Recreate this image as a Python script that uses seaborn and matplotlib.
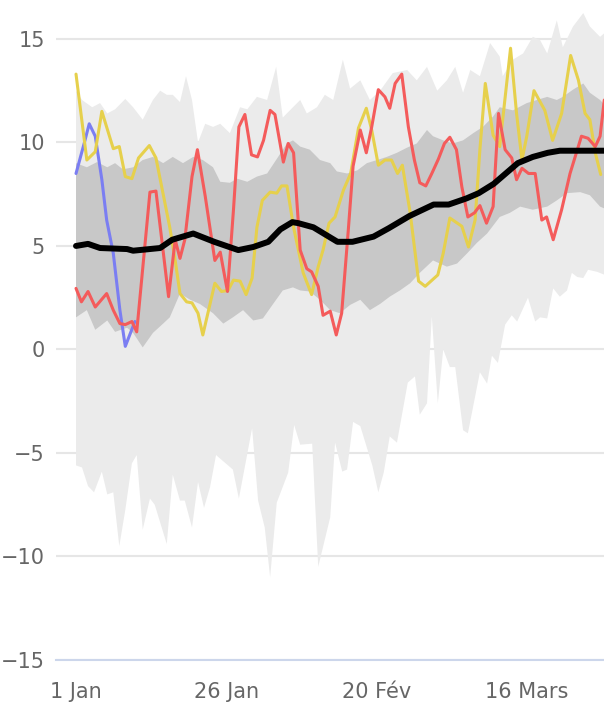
import matplotlib
matplotlib.use("Agg")
import matplotlib.pyplot as plt
import seaborn as sns

# days counted from 1 Jan
tick_days = [0, 25, 50, 75]
tick_labels = ["1 Jan", "26 Jan", "20 Fév", "16 Mars"]

# min / max envelope (light band)
max_days = [0, 1, 2.7, 4, 5.2, 6.5, 8.2, 9.5, 11.1, 12.8, 14, 15.1, 16.1, 17.3, 18.3, 19.3, 20.3, 21.5,
            22.8, 24, 25.6, 27.3, 28.5, 30.1, 31.8, 33.3, 34.4, 36.1, 37.3, 38.4, 40.1, 41.4, 42.8, 44.4,
            45.6, 47.3, 48.9, 50.6, 52.7, 55.1, 56.7, 58.4, 60.1, 61.7, 63.1, 64.4, 65.6, 67.2, 68.9,
            70.5, 71, 72.7, 74.4, 76, 77.2, 78.4, 80, 81, 82.7, 84.4, 85.5, 87.2, 88]
max_vals = [12.5, 12.05, 11.7, 11.9, 11.4, 11.6, 12.1, 11.7, 11.1, 12.05, 12.5, 12.3, 12.3, 11.95, 13.2,
            12.05, 10.0, 10.9, 10.75, 10.9, 10.45, 11.7, 11.6, 12.2, 12.05, 13.65, 11.2, 11.7, 12.05,
            11.4, 11.7, 12.3, 12.05, 14.0, 12.6, 13.0, 12.05, 12.5, 13.35, 13.5, 13.0, 13.65, 12.5, 13.0,
            13.65, 12.4, 13.5, 13.2, 14.8, 14.15, 13.2, 14.0, 14.3, 15.1, 14.95, 14.3, 15.9, 14.6, 15.6,
            16.25, 15.6, 15.1, 15.3]
min_days = [0, 1, 2, 3, 4.3, 5.2, 6.2, 7.2, 8.2, 9.3, 10.1, 11.1, 12.3, 13.1, 15.1, 16.1, 17.3, 18.1,
            19.3, 20.3, 21.3, 22.3, 23.3, 26.1, 27.1, 29.3, 30.3, 31.4, 32.3, 33.4, 35.3, 36.3, 37.3,
            39.3, 40.3, 42.3, 43.1, 44.3, 45.1, 46.1, 47.3, 49.3, 50.3, 51.2, 52.2, 53.4, 55.2, 56.4,
            57.2, 58.4, 59.2, 60.2, 61.1, 62.2, 63.1, 64.4, 65.2, 67.2, 68.4, 69.2, 70.2, 71.4, 72.5,
            73.4, 75.2, 76.4, 77.2, 78.4, 79.4, 80.5, 81.7, 82.5, 83.4, 84.4, 85.2, 86.7, 88]
min_vals = [-5.6, -5.7, -6.6, -6.9, -5.9, -7.0, -6.9, -9.5, -7.75, -5.5, -5.1, -8.7, -7.2, -7.5, -9.4,
            -6.05, -7.3, -7.3, -8.6, -6.4, -7.65, -6.65, -5.1, -5.8, -7.2, -3.8, -7.3, -8.6, -11.0,
            -7.4, -5.95, -3.65, -4.6, -4.55, -10.5, -8.1, -4.5, -5.9, -5.8, -3.5, -3.7, -5.6, -6.9,
            -5.95, -4.2, -4.5, -1.6, -1.3, -3.15, -2.6, 1.6, -2.6, 0.0, -0.85, -0.85, -3.9, -4.05,
            -1.1, -1.65, -0.3, -0.65, 1.2, 1.65, 1.35, 2.5, 1.35, 1.55, 1.5, 2.95, 2.55, 2.85, 3.7,
            3.5, 3.45, 3.85, 3.75, 3.6]

# inner band (dark band)
upper_days = [0, 1.8, 3.5, 5.2, 6.5, 7.8, 9.5, 11.1, 12.8, 14.5, 16.1, 17.8, 19.5, 21.1, 22.8, 24, 25.6,
              26.8, 28.5, 30.1, 31.8, 33.4, 35.1, 36.1, 37.3, 38.9, 40.6, 42.3, 43.4, 45.1, 46.8, 48.4,
              50.1, 51.7, 53.4, 55.1, 56.7, 58.4, 59.4, 61.1, 62.7, 64.4, 66.1, 67.7, 69.4, 70.5, 72.7,
              75, 76.7, 78.4, 80, 81, 82.7, 84.4, 85.5, 87.2, 88]
upper_vals = [9.0, 8.8, 9.05, 8.8, 9.0, 8.7, 8.8, 9.15, 9.3, 9.0, 9.3, 9.0, 9.3, 9.15, 8.8, 8.1, 8.05,
              8.25, 8.1, 8.35, 8.5, 9.2, 9.95, 10.1, 9.8, 9.65, 9.15, 9.0, 8.6, 8.5, 8.65, 9.0, 9.15,
              9.3, 9.5, 9.75, 9.95, 10.6, 10.3, 10.1, 9.95, 10.1, 10.45, 10.75, 11.25, 11.7, 11.55,
              11.9, 12.05, 12.2, 12.05, 12.2, 12.55, 12.85, 12.4, 12.05, 11.8]
lower_days = [0, 1.8, 3.2, 5.2, 6.5, 8.5, 9.5, 11.1, 12.8, 14.5, 15.6, 17.3, 19, 20.6, 22.8, 24.5, 26.1,
              27.8, 29.5, 31.1, 32.8, 34.4, 36.1, 37.3, 38.9, 40.6, 42.3, 43.9, 45.6, 47.3, 48.9, 50.6,
              52.2, 53.9, 55.6, 57.2, 59.4, 61.7, 63.4, 65.1, 66.7, 68.4, 70.5, 72.2, 73.9, 76, 78.4,
              80, 81.7, 83.9, 85.5, 87.2, 88]
lower_vals = [1.55, 1.9, 0.95, 1.4, 0.85, 1.05, 0.8, 0.1, 0.8, 1.25, 1.55, 2.7, 2.4, 2.2, 1.75, 1.25,
              1.55, 1.9, 1.4, 1.5, 2.2, 2.85, 3.0, 2.85, 2.8, 2.4, 1.9, 1.75, 2.15, 2.4, 1.9, 2.2, 2.55,
              2.85, 3.2, 3.7, 4.3, 4.0, 4.15, 4.65, 5.15, 5.6, 6.4, 6.6, 6.9, 6.75, 6.9, 7.2, 7.55,
              7.6, 7.45, 6.9, 6.8]

# individual years
blue_days = [0, 1.4, 2.2, 3.2, 4.3, 5.1, 6.2, 7.3, 8.2, 9.8]
blue_vals = [8.5, 10.0, 10.9, 10.3, 8.2, 6.25, 4.65, 1.9, 0.15, 1.35]

yellow_days = [0, 1.8, 3.2, 4.3, 6.2, 7.2, 8.2, 9.3, 10.4, 12.2, 13.3, 15.6, 16.5, 17.3, 18.4, 19.3,
               20.3, 21.1, 23.1, 24.2, 25.3, 26.2, 27.3, 28.3, 29.3, 30.1, 31, 32.3, 33.4, 34.2, 35.1,
               36.2, 37.8, 39.2, 40.3, 41.1, 42.1, 43.1, 44.5, 45.7, 47, 48.3, 49.2, 50.3, 51.4, 52.5,
               53.5, 54.3, 55.6, 57, 58.1, 60.2, 61.1, 62.2, 64.2, 65.3, 66.4, 67.2, 68.1, 69.4, 70.5,
               72.3, 73.3, 74.2, 75, 76.2, 78, 79.3, 80.8, 82.3, 83.6, 84.7, 85.5, 86.4, 87.3]
yellow_vals = [13.3, 9.15, 9.55, 11.5, 9.7, 9.8, 8.35, 8.25, 9.25, 9.85, 9.25, 5.9, 4.3, 2.7, 2.3, 2.25,
               1.75, 0.7, 3.2, 2.8, 2.85, 3.35, 3.3, 2.65, 3.45, 5.9, 7.2, 7.6, 7.55, 7.9, 7.9, 5.9,
               3.7, 2.65, 4.0, 4.8, 6.1, 6.4, 7.7, 8.5, 10.7, 11.65, 10.6, 8.9, 9.15, 9.15, 8.5, 8.9,
               6.6, 3.3, 3.05, 3.6, 4.65, 6.35, 5.95, 4.95, 6.25, 9.65, 12.85, 10.35, 9.8, 14.55, 11.4,
               9.15, 10.3, 12.5, 11.55, 10.1, 11.4, 14.2, 13.0, 11.4, 11.1, 9.5, 8.45]

red_days = [0, 0.9, 2.0, 3.2, 5.1, 6.2, 7.3, 8.2, 9.3, 10.1, 12.3, 13.3, 15.4, 16.5, 17.3, 18.1, 19.3,
            20.2, 21.5, 23.1, 24, 25.2, 26.2, 27.1, 28.1, 29.2, 30.2, 31.2, 32.3, 33.1, 34.5, 35.3,
            36.2, 37.3, 38.4, 39.2, 40.3, 41.1, 42.3, 43.3, 44.2, 45.3, 46.1, 47.3, 48.3, 49.2, 50.3,
            51.4, 52.2, 53.1, 54.2, 55.3, 56.3, 57.2, 58.2, 59.2, 60.3, 61.3, 62.2, 63.3, 64.2, 65.2,
            66.3, 67.2, 68.3, 69.4, 70.3, 71.4, 72.5, 73.3, 74.2, 75.3, 76.4, 77.5, 78.3, 79.4, 80.8,
            82.2, 84.1, 85.2, 86.4, 87.2, 87.9]
red_vals = [2.95, 2.3, 2.8, 2.05, 2.7, 1.9, 1.25, 1.2, 1.35, 0.85, 7.6, 7.65, 2.55, 5.3, 4.4, 5.3, 8.35,
            9.65, 7.4, 4.3, 4.7, 2.8, 6.75, 10.75, 11.35, 9.4, 9.3, 10.1, 11.55, 11.35, 9.05, 9.95,
            9.5, 4.8, 3.9, 3.75, 3.05, 1.65, 1.85, 0.7, 1.75, 5.75, 8.85, 10.6, 9.5, 10.75, 12.55,
            12.2, 11.65, 12.85, 13.3, 10.75, 9.15, 8.05, 7.9, 8.5, 9.2, 9.95, 10.25, 9.65, 7.85, 6.4,
            6.6, 6.95, 6.1, 6.9, 11.4, 9.65, 9.25, 8.2, 8.75, 8.5, 8.5, 6.25, 6.4, 5.3, 6.75, 8.5,
            10.3, 10.2, 9.8, 10.3, 12.05]

mean_days = [0, 2, 4, 8.5, 9.5, 14, 16, 19.5, 23, 27, 29.5, 32, 34, 36, 37, 39.5, 43.5, 46, 49.5, 52,
             55.5, 59.5, 62, 65, 67, 69.5, 73.5, 76, 78.5, 80.5, 88]
mean_vals = [5.0, 5.1, 4.9, 4.85, 4.77, 4.9, 5.3, 5.6, 5.2, 4.8, 4.95, 5.2, 5.8, 6.15, 6.1, 5.9, 5.2,
             5.2, 5.45, 5.85, 6.45, 7.0, 7.0, 7.3, 7.55, 8.0, 9.0, 9.3, 9.5, 9.6, 9.6]

sns.set_style("white")
plt.rcParams['font.family'] = ['DejaVu Sans']

fig = plt.figure(figsize=(6.04, 7.18), dpi=100)
ax = fig.add_axes([56 / 604, 58 / 718, 548 / 604, 660 / 718])

# bands as polygons (upper edge forward, lower edge back)
ax.fill(max_days + min_days[::-1], max_vals + min_vals[::-1], color='#ebebeb', lw=0, zorder=1)
ax.fill(upper_days + lower_days[::-1], upper_vals + lower_vals[::-1], color='#c8c8c8', lw=0, zorder=2)

sns.lineplot(x=blue_days, y=blue_vals, color='#7b7ef2', linewidth=2.2, sort=False, ax=ax, zorder=3)
sns.lineplot(x=yellow_days, y=yellow_vals, color='#e6d04c', linewidth=2.2, sort=False, ax=ax, zorder=3)
sns.lineplot(x=red_days, y=red_vals, color='#f45b5b', linewidth=2.2, sort=False, ax=ax, zorder=4)
sns.lineplot(x=mean_days, y=mean_vals, color='black', linewidth=4.3, sort=False, ax=ax, zorder=5)

ax.set_xlim(-3.33, 87.85)
ax.set_ylim(-15, 16.88)
ax.set_yticks([-15, -10, -5, 0, 5, 10, 15])
ax.set_xticks(tick_days)
ax.set_xticklabels(tick_labels)
ax.set_xlabel('')
ax.set_ylabel('')

ax.yaxis.grid(True, color='#e6e6e6', linewidth=1.5)
ax.set_axisbelow(True)
for side in ['top', 'right', 'left']:
    ax.spines[side].set_visible(False)
ax.spines['bottom'].set_color('#ccd6eb')
ax.spines['bottom'].set_linewidth(1.5)
ax.spines['bottom'].set_zorder(6)

ax.tick_params(axis='x', length=14, width=1.3, color='#ccd6eb', labelsize=15,
               labelcolor='#666666', pad=2)
ax.tick_params(axis='y', length=0, labelsize=15, labelcolor='#666666', pad=8)

fig.savefig('out.png', dpi=100)
